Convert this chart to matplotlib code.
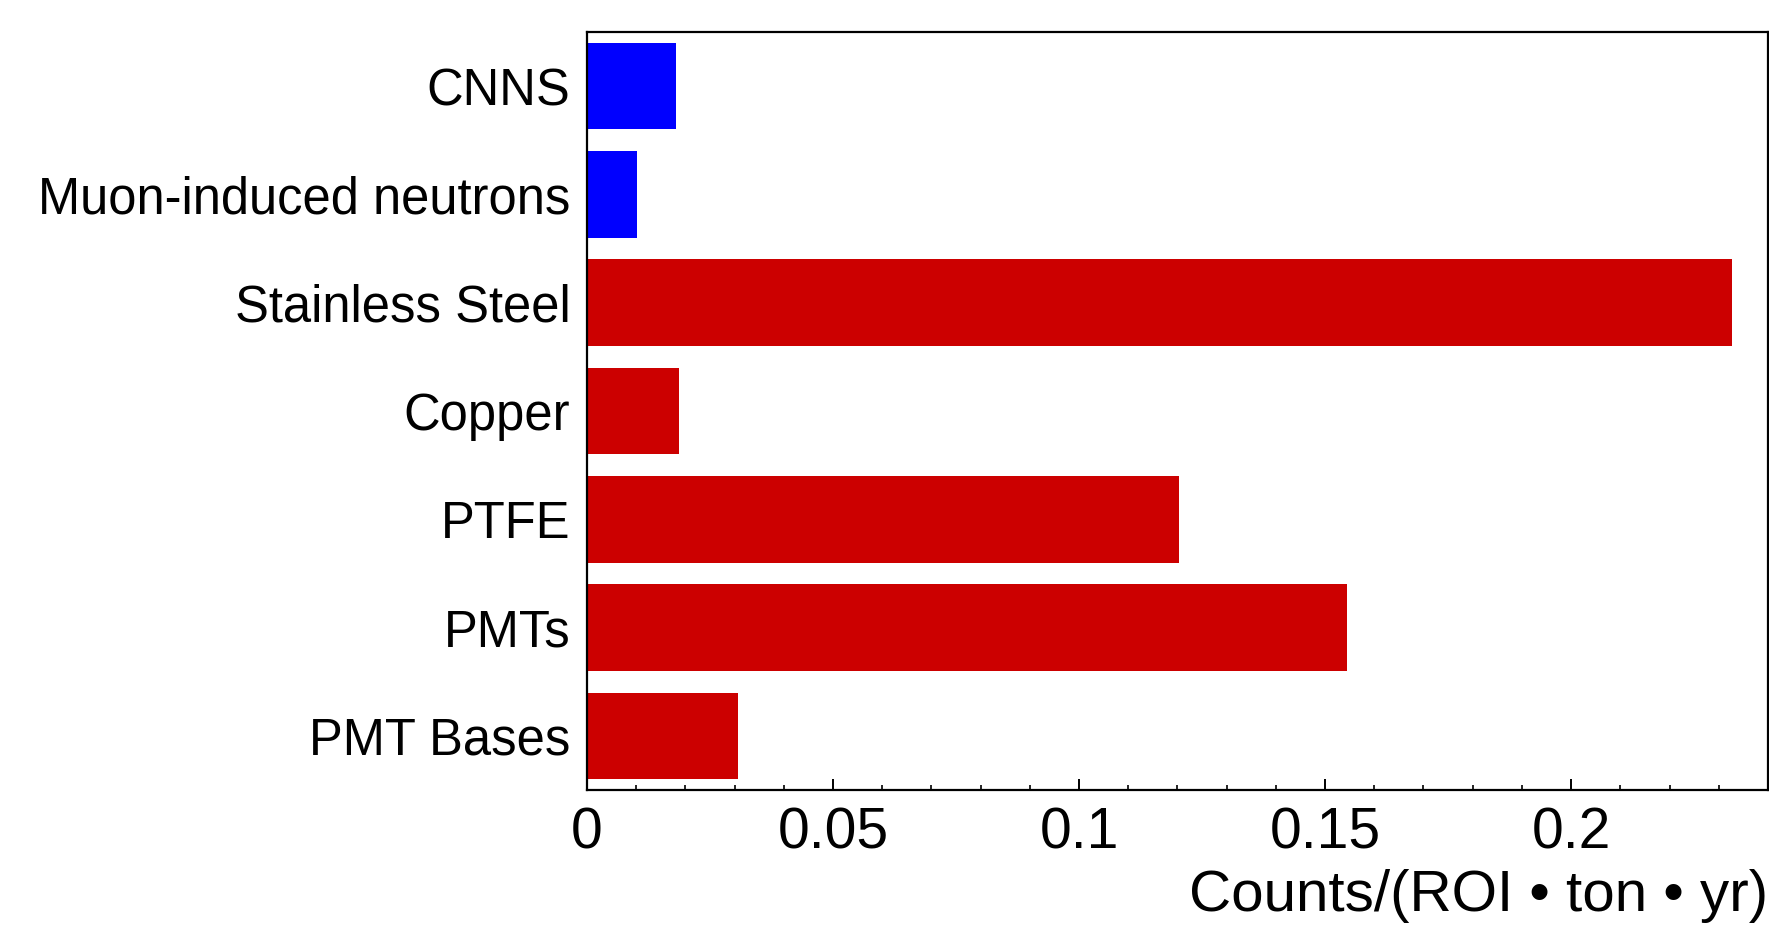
import matplotlib.pyplot as plt
import numpy as np

# Background contributions, listed top to bottom
sources = ['CNNS', 'Muon-induced neutrons', 'Stainless Steel', 'Copper',
           'PTFE', 'PMTs', 'PMT Bases']
counts = [0.0181, 0.0102, 0.2327, 0.0187, 0.1203, 0.1545, 0.0307]
colors = ['#0000ff', '#0000ff', '#cc0000', '#cc0000', '#cc0000', '#cc0000', '#cc0000']
xticks = [0, 0.05, 0.1, 0.15, 0.2]
xtick_labels = ['0', '0.05', '0.1', '0.15', '0.2']

plt.rcParams['font.family'] = ['Liberation Sans', 'DejaVu Sans']

fig = plt.figure(figsize=(17.69, 9.25), dpi=100)
ax = fig.add_axes([0.3318, 0.1459, 0.6676, 0.8195])

y = np.arange(len(sources))
ax.barh(y, counts, height=0.8, color=colors, edgecolor='none')

ax.set_ylim(len(sources) - 0.5, -0.5)
ax.set_xlim(0, 0.24)

ax.set_yticks(y)
ax.set_yticklabels(sources, fontsize=36.5)
ax.tick_params(axis='y', length=0, pad=12)

ax.set_xticks(xticks)
ax.set_xticklabels(xtick_labels, fontsize=41)
ax.set_xticks(np.arange(0, 0.241, 0.01), minor=True)
ax.tick_params(axis='x', which='major', direction='in', length=8, width=1.4, pad=12)
ax.tick_params(axis='x', which='minor', direction='in', length=3.5, width=1.2)

for s in ax.spines.values():
    s.set_linewidth(1.6)

ax.set_xlabel('Counts/(ROI \u2022 ton \u2022 yr)', fontsize=42, loc='right', labelpad=6)

fig.savefig('out.png', dpi=100)
